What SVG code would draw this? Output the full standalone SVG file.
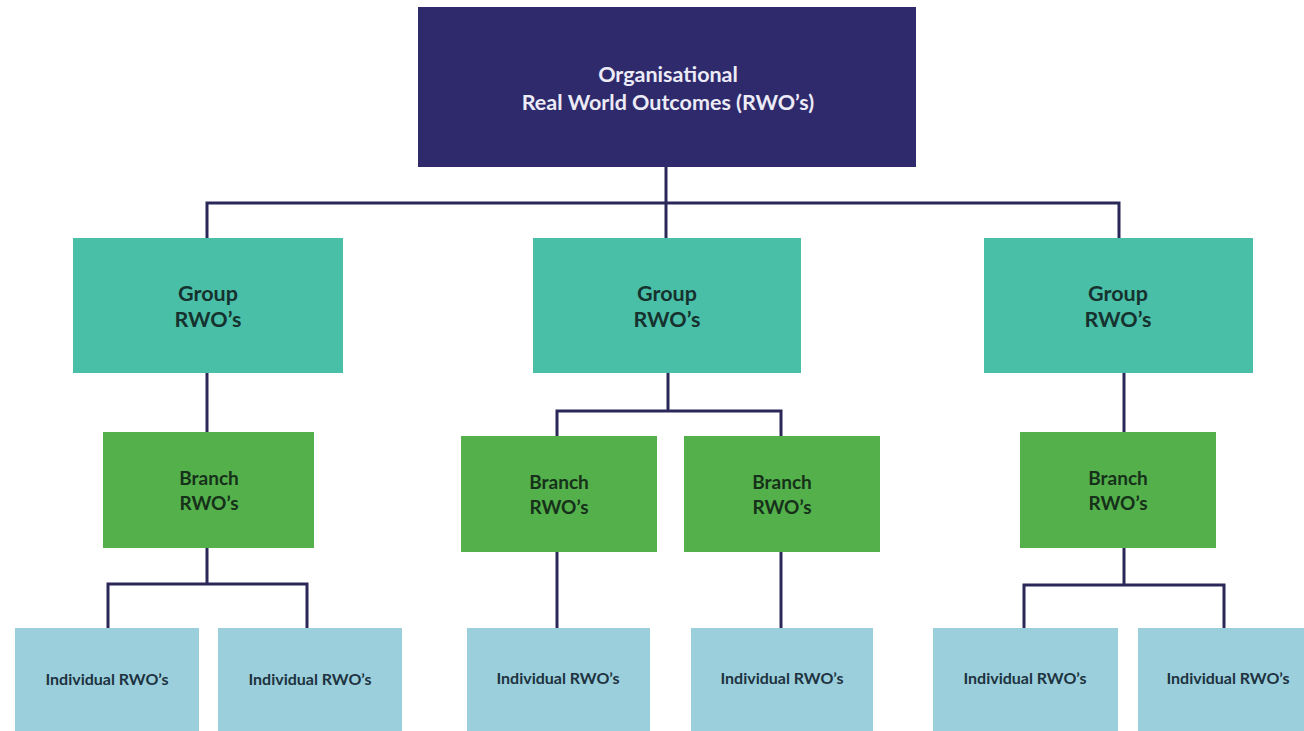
<svg xmlns="http://www.w3.org/2000/svg" width="1304" height="731" viewBox="0 0 1304 731">
  <style>
    .wire { fill: none; stroke: #2a2858; stroke-width: 3; stroke-linejoin: miter; }
    .org { fill: #2e2a6c; }
    .grp { fill: #4abfa8; }
    .br { fill: #53b04b; }
    .ind { fill: #9ccfdc; }
    text { font-family: Lato, "Open Sans", "Liberation Sans", sans-serif; font-weight: bold; text-anchor: middle; }
    .t-org { fill: #ecebf6; font-size: 21.5px; }
    .t-grp { fill: #16322e; font-size: 21.5px; }
    .t-br { fill: #16301a; font-size: 19px; }
    .t-ind { fill: #1d3340; font-size: 16px; }
  </style>
  <rect width="1304" height="731" fill="#ffffff"/>

  <!-- connectors -->
  <g id="connectors">
    <!-- organisational level to groups -->
    <path class="wire" d="M666 167 V238"/>
    <path class="wire" d="M207 238 V203 H1119 V238"/>
    <!-- groups to branches -->
    <path class="wire" d="M207 373 V432"/>
    <path class="wire" d="M668 373 V411 M557 436 V411 H781 V436"/>
    <path class="wire" d="M1124 373 V432"/>
    <!-- branches to individuals -->
    <path class="wire" d="M207 548 V584 M108 628 V584 H307 V628"/>
    <path class="wire" d="M557 552 V628"/>
    <path class="wire" d="M781 552 V628"/>
    <path class="wire" d="M1124 548 V585 M1024 628 V585 H1224 V628"/>
  </g>

  <!-- top level -->
  <g id="org">
    <rect class="org" x="418" y="7" width="498" height="160"/>
    <text class="t-org" x="668" y="82">Organisational</text>
    <text class="t-org" x="668" y="110">Real World Outcomes (RWO’s)</text>
  </g>

  <!-- groups -->
  <g id="group-1">
    <rect class="grp" x="73" y="238" width="270" height="135"/>
    <text class="t-grp" x="208" y="301">Group</text>
    <text class="t-grp" x="208" y="327">RWO’s</text>
  </g>
  <g id="group-2">
    <rect class="grp" x="533" y="238" width="268" height="135"/>
    <text class="t-grp" x="667" y="301">Group</text>
    <text class="t-grp" x="667" y="327">RWO’s</text>
  </g>
  <g id="group-3">
    <rect class="grp" x="984" y="238" width="269" height="135"/>
    <text class="t-grp" x="1118" y="301">Group</text>
    <text class="t-grp" x="1118" y="327">RWO’s</text>
  </g>

  <!-- branches -->
  <g id="branch-1">
    <rect class="br" x="103" y="432" width="211" height="116"/>
    <text class="t-br" x="209" y="485">Branch</text>
    <text class="t-br" x="209" y="510">RWO’s</text>
  </g>
  <g id="branch-2">
    <rect class="br" x="461" y="436" width="196" height="116"/>
    <text class="t-br" x="559" y="489">Branch</text>
    <text class="t-br" x="559" y="514">RWO’s</text>
  </g>
  <g id="branch-3">
    <rect class="br" x="684" y="436" width="196" height="116"/>
    <text class="t-br" x="782" y="489">Branch</text>
    <text class="t-br" x="782" y="514">RWO’s</text>
  </g>
  <g id="branch-4">
    <rect class="br" x="1020" y="432" width="196" height="116"/>
    <text class="t-br" x="1118" y="485">Branch</text>
    <text class="t-br" x="1118" y="510">RWO’s</text>
  </g>

  <!-- individuals -->
  <g id="ind-1">
    <rect class="ind" x="15" y="628" width="184" height="103"/>
    <text class="t-ind" x="107" y="685">Individual RWO’s</text>
  </g>
  <g id="ind-2">
    <rect class="ind" x="218" y="628" width="184" height="103"/>
    <text class="t-ind" x="310" y="685">Individual RWO’s</text>
  </g>
  <g id="ind-3">
    <rect class="ind" x="467" y="628" width="183" height="103"/>
    <text class="t-ind" x="558" y="684">Individual RWO’s</text>
  </g>
  <g id="ind-4">
    <rect class="ind" x="691" y="628" width="182" height="103"/>
    <text class="t-ind" x="782" y="684">Individual RWO’s</text>
  </g>
  <g id="ind-5">
    <rect class="ind" x="933" y="628" width="185" height="103"/>
    <text class="t-ind" x="1025" y="684">Individual RWO’s</text>
  </g>
  <g id="ind-6">
    <rect class="ind" x="1138" y="628" width="166" height="103"/>
    <text class="t-ind" x="1228" y="684">Individual RWO’s</text>
  </g>
</svg>
